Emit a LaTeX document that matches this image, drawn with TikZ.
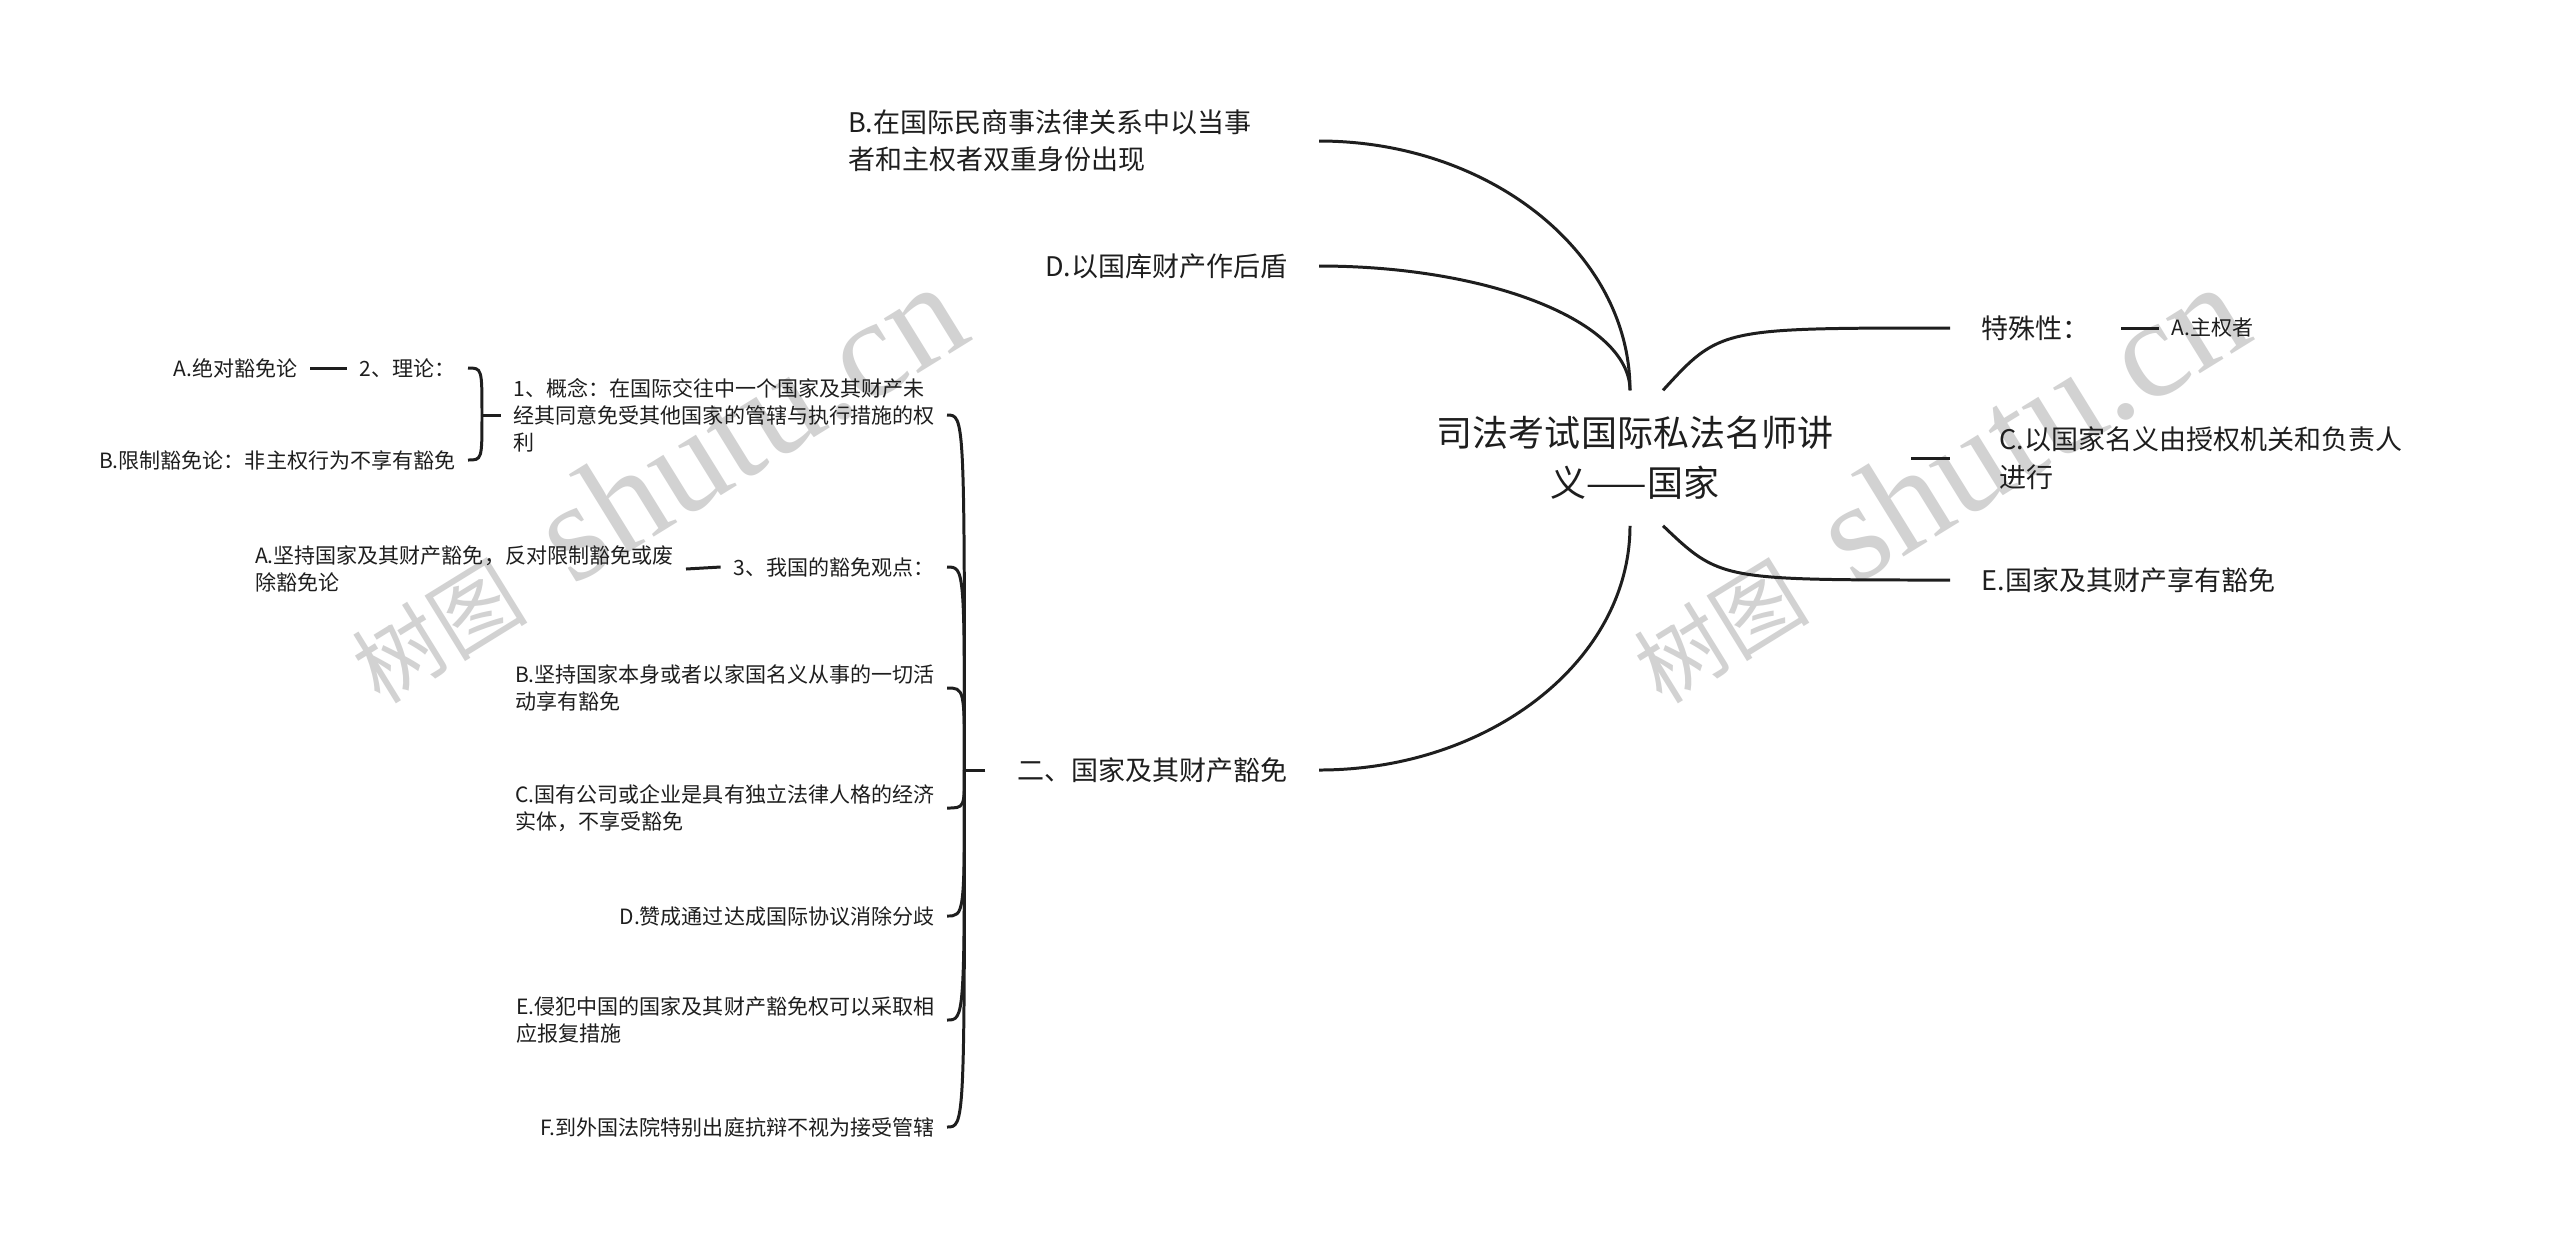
\documentclass[tikz,border=0pt]{standalone}
\usepackage{fontspec}
\setmainfont{Noto Sans CJK SC}
\newfontfamily\wmserif{Liberation Serif}
\usepackage{tikz}
\usetikzlibrary{calc}
\definecolor{ink}{HTML}{1E1E1E}
\definecolor{wmgray}{HTML}{D2D2D2}
\tikzset{
  topic/.style={font=\fontsize{10.24pt}{14.2pt}\selectfont,align=center,
                inner xsep=0pt,minimum height=1.34cm,text=ink},
  branch/.style={font=\fontsize{7.68pt}{10.67pt}\selectfont,align=left,
                 inner xsep=0.31cm,inner ysep=0pt,text=ink},
  leaf/.style={font=\fontsize{5.98pt}{7.68pt}\selectfont,align=left,
               inner xsep=0.12cm,inner ysep=0pt,text=ink},
  link/.style={draw=ink,line width=0.85pt},
  wmark/.style={text=wmgray,inner sep=0pt,rotate=31.7,anchor=base west}
}

\begin{document}
\begin{tikzpicture}[x=0.01cm,y=-0.01cm]
    \path[use as bounding box,fill=white] (0,0) rectangle (2560,1241);

    % watermarks
    \node[wmark] (wmleft) at (380,706)
      {\fontsize{25pt}{25pt}\selectfont 树图\hspace{0.5cm}\wmserif\fontsize{40pt}{40pt}\selectfont shutu.cn};
    \node[wmark] (wmright) at (1662,706)
      {\fontsize{25pt}{25pt}\selectfont 树图\hspace{0.5cm}\wmserif\fontsize{40pt}{40pt}\selectfont shutu.cn};

    % centre
    \node[topic] (root) at (1635,458) {司法考试国际私法名师讲\\义——国家};
    \coordinate (rootnw) at ($(root.north)+(-5,0)$);
    \coordinate (rootne) at ($(root.north)+(28,0)$);
    \coordinate (rootsw) at ($(root.south)+(-5,0)$);
    \coordinate (rootse) at ($(root.south)+(28,0)$);

    % left branches
    \node[branch,anchor=east,text width=4.39cm] (dual) at (1319,141)
      {B.在国际民商事法律关系中以当事\\者和主权者双重身份出现};
    \node[branch,anchor=east] (treasury) at (1319,266) {D.以国库财产作后盾};
    \node[branch,anchor=east] (immun) at (1319,770) {二、国家及其财产豁免};

    % right branches
    \node[branch,anchor=west] (special) at (1950,328) {特殊性：};
    \node[leaf,anchor=west] (sovereign) at (2159,328) {A.主权者};
    \node[branch,anchor=west,inner xsep=0.49cm] (organ) at (1950,458)
      {C.以国家名义由授权机关和负责人\\进行};
    \node[branch,anchor=west] (enjoy) at (1950,580) {E.国家及其财产享有豁免};

    % children of immunity
    \node[leaf,anchor=east] (concept) at (947,415)
      {1、概念：在国际交往中一个国家及其财产未\\经其同意免受其他国家的管辖与执行措施的权\\利};
    \node[leaf,anchor=east] (china) at (947,567) {3、我国的豁免观点：};
    \node[leaf,anchor=east] (bself) at (947,688)
      {B.坚持国家本身或者以家国名义从事的一切活\\动享有豁免};
    \node[leaf,anchor=east] (csoe) at (947,808)
      {C.国有公司或企业是具有独立法律人格的经济\\实体，不享受豁免};
    \node[leaf,anchor=east] (dagree) at (947,916) {D.赞成通过达成国际协议消除分歧};
    \node[leaf,anchor=east] (eretal) at (947,1020)
      {E.侵犯中国的国家及其财产豁免权可以采取相\\应报复措施};
    \node[leaf,anchor=east] (fcourt) at (947,1127) {F.到外国法院特别出庭抗辩不视为接受管辖};

    % third level
    \node[leaf,anchor=east] (theory) at (468,368) {2、理论：};
    \node[leaf,anchor=east] (absolute) at (310,368) {A.绝对豁免论};
    \node[leaf,anchor=east] (restrict) at (468,460) {B.限制豁免论：非主权行为不享有豁免};
    \node[leaf,anchor=east] (insist) at (686,569)
      {A.坚持国家及其财产豁免，反对限制豁免或废\\除豁免论};

    % links from centre
    \draw[link] (rootnw) .. controls ($(rootnw)!0.55!(rootnw |- dual.east)$)
      and ($(dual.east)!0.55!(rootnw |- dual.east)$) .. (dual.east);
    \draw[link] (rootnw) .. controls ($(rootnw)!0.55!(rootnw |- treasury.east)$)
      and ($(treasury.east)!0.55!(rootnw |- treasury.east)$) .. (treasury.east);
    \draw[link] (rootsw) .. controls ($(rootsw)!0.55!(rootsw |- immun.east)$)
      and ($(immun.east)!0.55!(rootsw |- immun.east)$) .. (immun.east);
    \draw[link] (rootne) .. controls ($(rootne |- special.west)+(57,0)$) .. (special.west);
    \draw[link] (rootse) .. controls ($(rootse |- enjoy.west)+(57,0)$) .. (enjoy.west);
    \coordinate (organstub) at ($(organ.west)+(-39,0)$);
    \draw[link] (organstub) -- (organ.west);
    \draw[link] (special.east) -- (sovereign.west);

    % fork of immunity
    \coordinate (kfork) at ($(immun.west)+(-21,0)$);
    \draw[link] (immun.west) -- (kfork);
    \draw[link] (kfork) .. controls (kfork |- concept.east) and (kfork |- concept.east) .. (concept.east);
    \draw[link] (kfork) .. controls (kfork |- china.east) and (kfork |- china.east) .. (china.east);
    \draw[link] (kfork) .. controls (kfork |- bself.east) and (kfork |- bself.east) .. (bself.east);
    \draw[link] (kfork) .. controls (kfork |- csoe.east) and (kfork |- csoe.east) .. (csoe.east);
    \draw[link] (kfork) .. controls (kfork |- dagree.east) and (kfork |- dagree.east) .. (dagree.east);
    \draw[link] (kfork) .. controls (kfork |- eretal.east) and (kfork |- eretal.east) .. (eretal.east);
    \draw[link] (kfork) .. controls (kfork |- fcourt.east) and (kfork |- fcourt.east) .. (fcourt.east);

    % bracket of concept
    \coordinate (cfork) at ($(concept.west)+(-19,0)$);
    \draw[link] (concept.west) -- (cfork);
    \draw[link] (cfork) .. controls (cfork |- theory.east) and (cfork |- theory.east) .. (theory.east);
    \draw[link] (cfork) .. controls (cfork |- restrict.east) and (cfork |- restrict.east) .. (restrict.east);
    \draw[link] (theory.west) -- (absolute.east);
    \draw[link] (china.west) -- (insist.east);
  \end{tikzpicture}
\end{document}
